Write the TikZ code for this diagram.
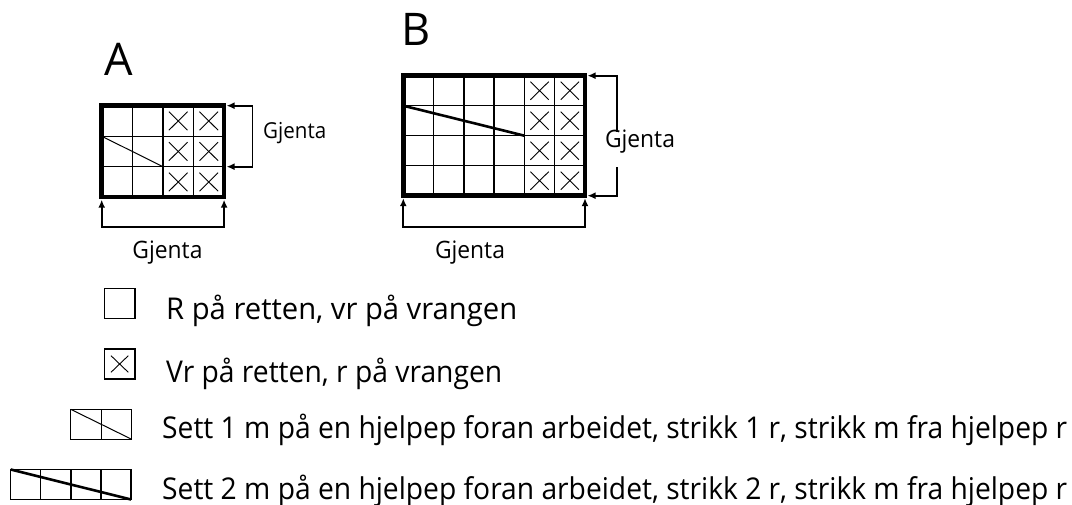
\documentclass[tikz,border=0pt]{standalone}
\usepackage{graphicx}
\usepackage{fontspec}
\setmainfont{Open Sans}
\usetikzlibrary{arrows.meta,calc}
\newcommand\fitw[2]{\resizebox{#1}{\height}{#2}}
\begin{document}
\begin{tikzpicture}[x=1pt,y=-1pt,
  gridline/.style={line width=1.3pt},
  frameline/.style={line width=4.5pt},
  xmark/.style={line width=0.9pt},
  thindiag/.style={line width=1pt},
  thickdiag/.style={line width=2.6pt},
  arrowline/.style={line width=1.7pt, >={Latex[length=8pt,width=7pt]}},
  legtext/.style={anchor=base west, inner sep=0pt, font=\fontsize{30}{36}\selectfont},
  replabel/.style={anchor=base, inner sep=0pt, font=\fontsize{24}{28}\selectfont},
  bigletter/.style={anchor=base, inner sep=0pt, font=\fontsize{45}{50}\selectfont}]
\useasboundingbox (0,0) rectangle (1072,505);

% ---------- Chart A ----------
\foreach \i in {1,2,3} \draw[gridline] ({101.7+\i*30.6},105.7) -- ++(0,91.5);
\foreach \j in {1,2} \draw[gridline] (101.7,{105.7+\j*30.5}) -- ++(122.4,0);
\foreach \i in {2,3} \foreach \j in {0,1,2} {
  \draw[xmark] ({101.7+\i*30.6+6},{105.7+\j*30.5+6}) -- ++(18.6,18.5);
  \draw[xmark] ({101.7+\i*30.6+6},{105.7+\j*30.5+24.5}) -- ++(18.6,-18.5);
}
\draw[thindiag] (101.7,136.2) -- (162.9,166.7);
\draw[frameline] (101.7,105.7) rectangle (224.1,197.2);
\coordinate (Atr) at (224.1,105.7);
\coordinate (Amr) at (224.1,166.7);
\coordinate (Abl) at (101.7,197.2);
\coordinate (Abr) at (224.1,197.2);
\node[bigletter] (labA) at (119,75.7) {A};

\draw[arrowline,<->] ($(Atr)+(2.5,0)$) -- ++(26,0) |- ($(Amr)+(2.5,0)$);
\draw[arrowline,<->] ($(Abl)+(0,2.5)$) -- ++(0,27) -| ($(Abr)+(0,2.5)$);
\node[replabel, font=\fontsize{22}{26}\selectfont] (gAr) at (294.7,138.3) {\fitw{63pt}{Gjenta}};
\node[replabel] (gAb) at (167.5,258.3) {\fitw{70pt}{Gjenta}};

% ---------- Chart B ----------
\foreach \i in {1,...,5} \draw[gridline] ({403.3+\i*30.28},75.7) -- ++(0,120);
\foreach \j in {1,2,3} \draw[gridline] (403.3,{75.7+\j*30}) -- ++(181.7,0);
\foreach \i in {4,5} \foreach \j in {0,1,2,3} {
  \draw[xmark] ({403.3+\i*30.28+6},{75.7+\j*30+6}) -- ++(18.3,18);
  \draw[xmark] ({403.3+\i*30.28+6},{75.7+\j*30+24}) -- ++(18.3,-18);
}
\draw[thickdiag] (403.3,105.7) -- (524.4,135.7);
\draw[frameline] (403.3,75.7) rectangle (585,195.7);
\coordinate (Btr) at (585,75.7);
\coordinate (Bbr) at (585,195.7);
\coordinate (Bbl) at (403.3,195.7);
\node[bigletter] (labB) at (416.5,45.7) {B};

\draw[arrowline,<-] ($(Btr)+(2.5,0)$) -- ++(29.2,0) -- ++(0,56);
\draw[arrowline,<-] ($(Bbr)+(2.5,0)$) -- ++(29.2,0) -- ++(0,-29);
\draw[arrowline,<->] ($(Bbl)+(0,2.5)$) -- ++(0,28.5) -| ($(Bbr)+(0,2.5)$);
\node[replabel] (gBr) at (640,148) {\fitw{70pt}{Gjenta}};
\node[replabel] (gBb) at (470,258.3) {\fitw{70pt}{Gjenta}};

% ---------- Legend ----------
\draw[gridline] (104.3,288.3) rectangle (135,318.3);
\draw[gridline] (104.3,349) rectangle (135,379);
\draw[xmark] (111,355.7) -- (128.3,372.3);
\draw[xmark] (111,372.3) -- (128.3,355.7);
\draw[gridline] (70.7,409.3) rectangle (131.7,439.3);
\draw[gridline] (101.2,409.3) -- (101.2,439.3);
\draw[thindiag] (70.7,409.3) -- (131.7,439.3);
\draw[gridline] (10.7,469.5) rectangle (131,499.5);
\foreach \x in {40.8,70.9,100.9} \draw[gridline] (\x,469.5) -- (\x,499.5);
\draw[thickdiag] (10.7,469.5) -- (131,499.5);

\node[legtext] (t1) at (166,319.3) {\fitw{351pt}{R på retten, vr på vrangen}};
\node[legtext] (t2) at (166,382.7) {\fitw{336pt}{Vr på retten, r på vrangen}};
\node[legtext] (t3) at (162,438.3) {\fitw{905pt}{Sett 1 m på en hjelpep foran arbeidet, strikk 1 r, strikk m fra hjelpep r}};
\node[legtext] (t4) at (162,499.3) {\fitw{905pt}{Sett 2 m på en hjelpep foran arbeidet, strikk 2 r, strikk m fra hjelpep r}};
\end{tikzpicture}
\end{document}
